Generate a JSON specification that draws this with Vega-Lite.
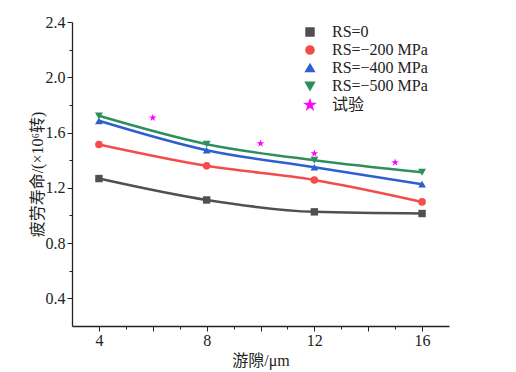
{
  "$schema": "https://vega.github.io/schema/vega-lite/v6.json",
  "autosize": {"type": "none"},
  "padding": {"left": 72, "top": 22, "right": 67, "bottom": 46},
  "width": 377,
  "height": 304,
  "background": "white",
  "config": {
    "view": {"stroke": null},
    "font": "Liberation Serif",
    "axis": {"labelFont": "Liberation Serif", "titleFont": "Liberation Serif, Noto Sans CJK SC", "labelFontSize": 16, "titleFontSize": 16, "labelColor": "#222", "titleColor": "#222", "domainColor": "#222", "tickColor": "#222", "titleFontWeight": "normal", "grid": false}
  },
  "data": {
    "values": [
      {"gap": 4, "life": 1.267, "series": "RS=0"},
      {"gap": 8, "life": 1.112, "series": "RS=0"},
      {"gap": 12, "life": 1.026, "series": "RS=0"},
      {"gap": 16, "life": 1.014, "series": "RS=0"},
      {"gap": 4, "life": 1.514, "series": "RS=−200 MPa"},
      {"gap": 8, "life": 1.359, "series": "RS=−200 MPa"},
      {"gap": 12, "life": 1.257, "series": "RS=−200 MPa"},
      {"gap": 16, "life": 1.098, "series": "RS=−200 MPa"},
      {"gap": 4, "life": 1.685, "series": "RS=−400 MPa"},
      {"gap": 8, "life": 1.472, "series": "RS=−400 MPa"},
      {"gap": 12, "life": 1.349, "series": "RS=−400 MPa"},
      {"gap": 16, "life": 1.226, "series": "RS=−400 MPa"},
      {"gap": 4, "life": 1.721, "series": "RS=−500 MPa"},
      {"gap": 8, "life": 1.516, "series": "RS=−500 MPa"},
      {"gap": 12, "life": 1.40, "series": "RS=−500 MPa"},
      {"gap": 16, "life": 1.313, "series": "RS=−500 MPa"},
      {"gap": 6, "life": 1.707, "series": "试验"},
      {"gap": 10, "life": 1.521, "series": "试验"},
      {"gap": 12, "life": 1.449, "series": "试验"},
      {"gap": 15, "life": 1.383, "series": "试验"}
    ]
  },
  "resolve": {"axis": {"x": "independent", "y": "independent"}},
  "layer": [
    {
      "mark": {"type": "rule", "opacity": 0},
      "encoding": {
        "x": {"field": "gap", "type": "quantitative", "scale": {"domain": [3, 17], "nice": false, "zero": false},
              "axis": {"orient": "bottom", "values": [5, 7, 9, 11, 13, 15], "labels": false, "domain": false, "tickSize": 3, "title": null}},
        "y": {"field": "life", "type": "quantitative", "scale": {"domain": [0.2, 2.4], "nice": false, "zero": false},
              "axis": {"orient": "left", "values": [0.6, 1.0, 1.4, 1.8, 2.2], "labels": false, "domain": false, "tickSize": 3, "title": null}}
      }
    },
    {
      "transform": [{"filter": "datum.series !== '试验'"}],
      "mark": {"type": "line", "interpolate": "monotone", "strokeWidth": 2.5},
      "encoding": {
        "x": {"field": "gap", "type": "quantitative", "scale": {"domain": [3, 17], "nice": false, "zero": false},
              "axis": {"orient": "bottom", "values": [4, 6, 8, 10, 12, 14, 16], "labelExpr": "datum.value % 4 === 0 ? datum.label : ''", "tickSize": 5, "labelPadding": 1, "title": "游隙/μm", "titlePadding": 4, "domainWidth": 1.3}},
        "y": {"field": "life", "type": "quantitative", "scale": {"domain": [0.2, 2.4], "nice": false, "zero": false},
              "axis": {"orient": "left", "values": [0.4, 0.8, 1.2, 1.6, 2.0, 2.4], "format": ".1f", "tickSize": 5, "labelPadding": 2, "title": "疲劳寿命/(×10⁶转)", "titlePadding": 0, "domainWidth": 1.3}},
        "color": {"field": "series", "type": "nominal",
                  "scale": {"domain": ["RS=0", "RS=−200 MPa", "RS=−400 MPa", "RS=−500 MPa", "试验"],
                            "range": ["#505050", "#f54b4b", "#2c60d0", "#2f8f5c", "#ff00ff"]},
                  "legend": {
                    "orient": "none", "legendX": 230, "legendY": 2, "title": null, "padding": 0,
                    "symbolSize": 49, "symbolStrokeWidth": 2, "labelOffset": 14, "rowPadding": 2,
                    "labelFont": "Liberation Serif, Noto Sans CJK SC", "labelFontSize": 16, "labelColor": "#222",
                    "encode": {"symbols": {"update": {
                      "shape": {"value": {"expr": "datum.value === 'RS=0' ? 'M-4.3,0H4.3M-0.85,-0.85H0.85V0.85H-0.85Z' : datum.value === 'RS=−200 MPa' ? 'M-4.3,0H4.3M-1,0A1,1,0,1,1,1,0A1,1,0,1,1,-1,0Z' : datum.value === 'RS=−400 MPa' ? 'M-4.3,0H4.3M-1,0.85L0,-0.95L1,0.85Z' : datum.value === 'RS=−500 MPa' ? 'M-4.3,0H4.3M-1,-0.85L0,0.95L1,-0.85Z' : 'M0,-1L0.223,-0.307L0.951,-0.309L0.361,0.117L0.588,0.809L0,0.38L-0.588,0.809L-0.361,0.117L-0.951,-0.309L-0.223,-0.307Z'"}},
                      "size": {"value": {"expr": "datum.value === '试验' ? 80 : 49"}},
                      "fill": {"value": {"expr": "scale('color', datum.value)"}},
                      "stroke": {"value": {"expr": "datum.value === '试验' ? 'transparent' : scale('color', datum.value)"}},
                      "opacity": {"value": 1}
                    }}}
                  }}
      }
    },
    {
      "transform": [{"calculate": "datum.series", "as": "marker"}],
      "mark": {"type": "point", "filled": true, "opacity": 1},
      "encoding": {
        "x": {"field": "gap", "type": "quantitative", "axis": null},
        "y": {"field": "life", "type": "quantitative", "axis": null},
        "color": {"field": "series", "type": "nominal"},
        "shape": {"field": "marker", "type": "nominal", "legend": null,
                  "scale": {"domain": ["RS=0", "RS=−200 MPa", "RS=−400 MPa", "RS=−500 MPa", "试验"],
                            "range": ["square", "circle", "triangle-up", "triangle-down", "M0,-1L0.223,-0.307L0.951,-0.309L0.361,0.117L0.588,0.809L0,0.38L-0.588,0.809L-0.361,0.117L-0.951,-0.309L-0.223,-0.307Z"]}},
        "size": {"field": "marker", "type": "nominal", "legend": null,
                 "scale": {"domain": ["RS=0", "RS=−200 MPa", "RS=−400 MPa", "RS=−500 MPa", "试验"], "range": [55, 65, 95, 95, 110]}}
      }
    }
  ]
}
